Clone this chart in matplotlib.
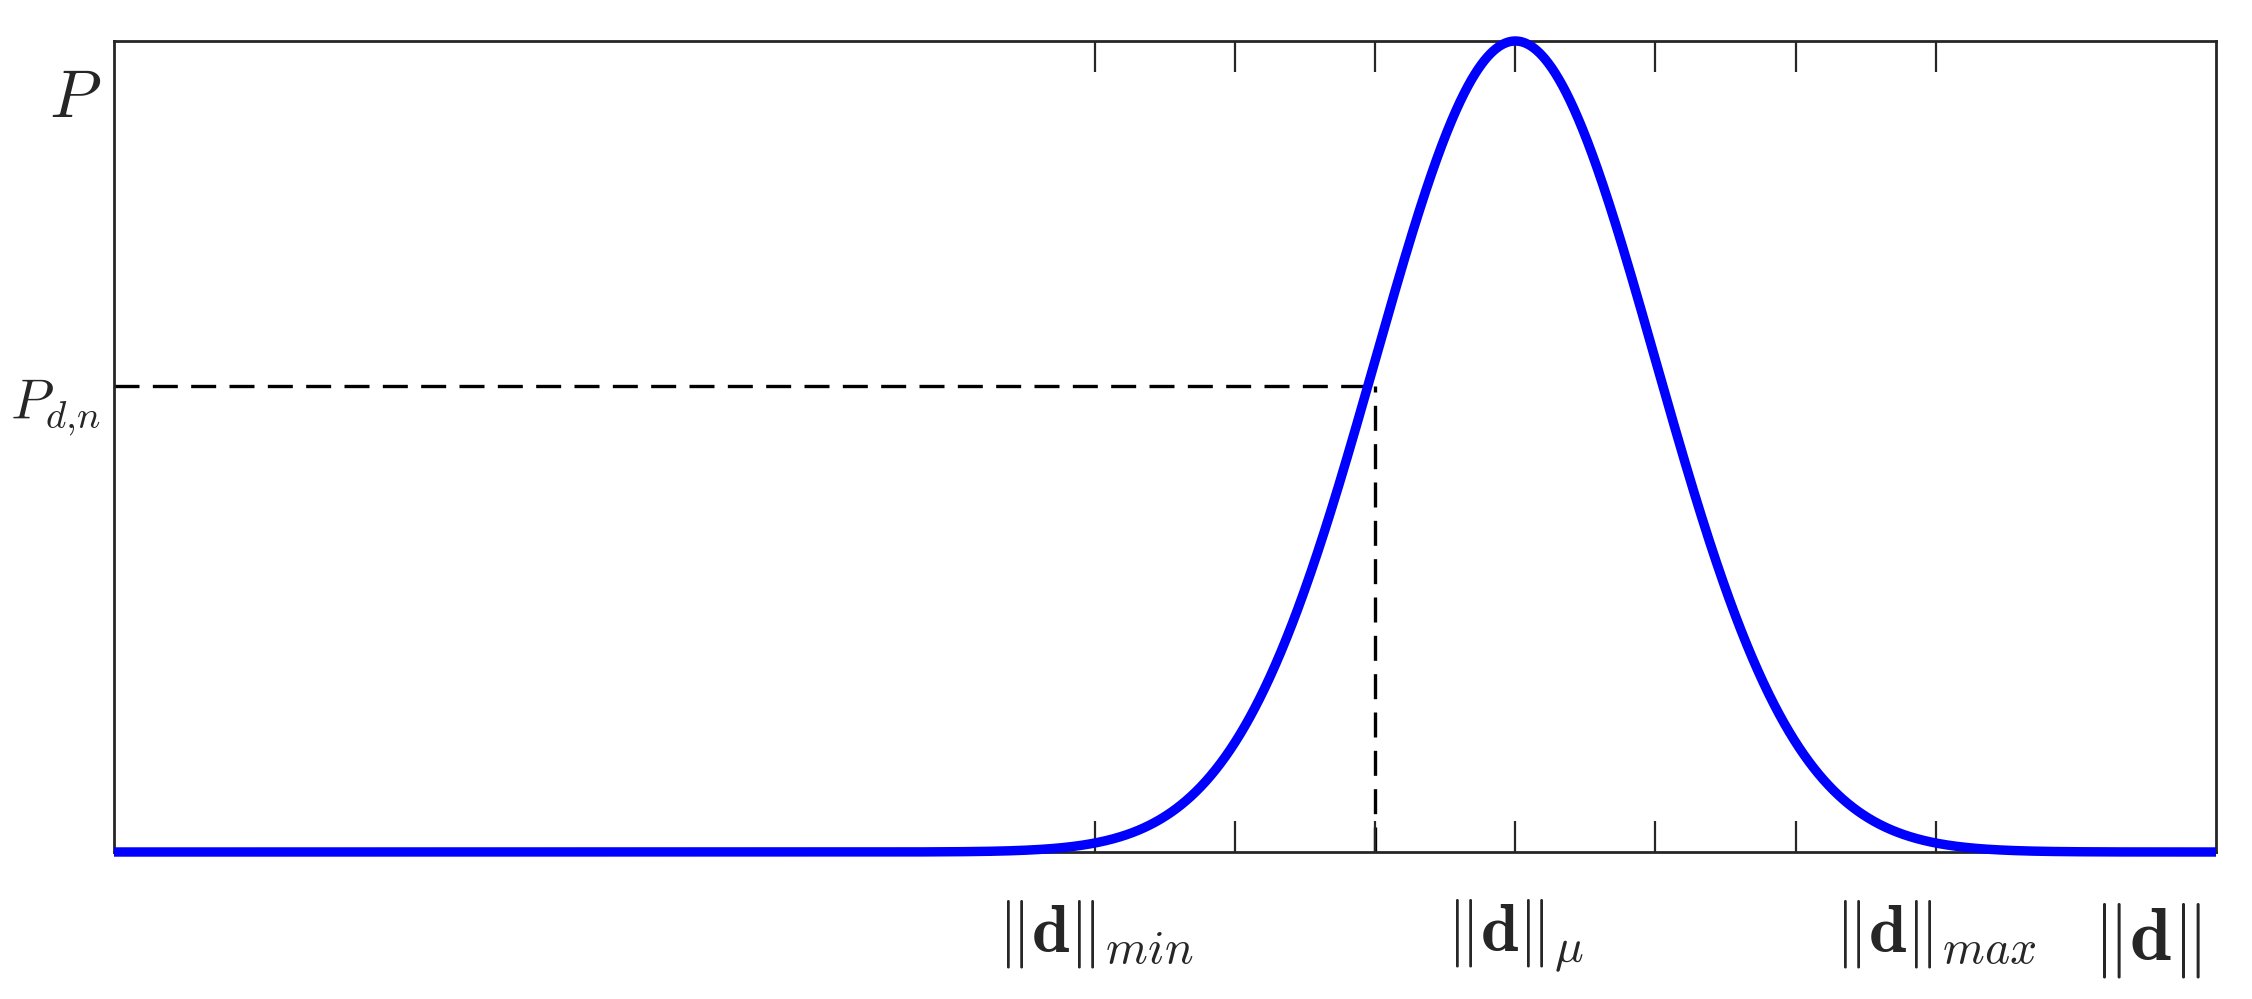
import matplotlib
matplotlib.use('Agg')
import numpy as np
import matplotlib.pyplot as plt
from matplotlib.transforms import blended_transform_factory

plt.rcParams['mathtext.fontset'] = 'cm'

# ---- data ----
X_RANGE = [0, 15]
Y_RANGE = [0, 1]
MU = 10.0          # ||d||_mu
SIGMA = 1.0
X_DN = 9.0         # position of the dashed guide
P_DN = 0.575       # P_{d,n}
tick_positions = [7, 8, 9, 10, 11, 12, 13]
tick_labels = [r'$\|\mathbf{d}\|_{min}$', '', '', r'$\|\mathbf{d}\|_{\mu}$', '', '',
               r'$\|\mathbf{d}\|_{max}$']
axis_label = r'$\|\mathbf{d}\|$'
axis_label_x = 14.5
ylabels = [r'$P$', r'$P_{d{,}n}$']
ylabel_pos = [0.93, 0.548]
ylabel_sizes = [48, 40]

x = np.linspace(X_RANGE[0], X_RANGE[1], 3001)
y = np.exp(-(x - MU) ** 2 / (2 * SIGMA ** 2))

W, H = 2252, 999
fig = plt.figure(figsize=(W / 100, H / 100), dpi=100)
ax = fig.add_axes([114 / W, 1 - 852 / H, (2216 - 114) / W, (852 - 41) / H])

gray = '#262626'
ax.plot([X_RANGE[0], X_DN], [P_DN, P_DN], color='black', lw=2.4, dashes=(7.5, 4), zorder=1)
ax.plot([X_DN, X_DN], [Y_RANGE[0], P_DN], color='black', lw=2.4, dashes=(7.5, 4), zorder=1)
ax.plot(x, y, color='#0000FF', lw=6.8, clip_on=False, zorder=3, solid_capstyle='butt')

ax.set_xlim(*X_RANGE)
ax.set_ylim(*Y_RANGE)

for s in ax.spines.values():
    s.set_color(gray)
    s.set_linewidth(2)

ax.set_xticks(tick_positions)
ax.set_xticklabels(tick_labels, fontsize=49, color=gray)
ax.tick_params(axis='x', direction='in', top=True, bottom=True, length=22, width=1.6,
               color=gray, pad=33)
ax.set_yticks([])

ax.annotate(axis_label, xy=(axis_label_x, 0), xycoords=('data', 'axes fraction'),
            xytext=(0, -35), textcoords='offset points', ha='center', va='top',
            fontsize=54, color=gray)

trans = blended_transform_factory(ax.transAxes, ax.transData)
for lab, yp, fs in zip(ylabels, ylabel_pos, ylabel_sizes):
    ax.text(-0.006, yp, lab, transform=trans, ha='right', va='center', fontsize=fs, color=gray)

fig.savefig('out.png', dpi=100, facecolor='white')
